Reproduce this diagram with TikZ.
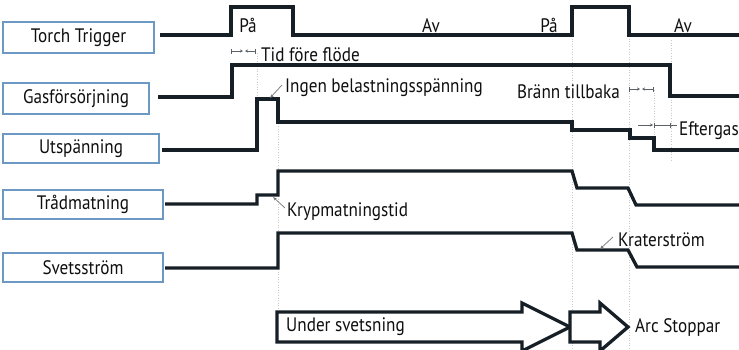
\documentclass[tikz,border=0pt]{standalone}
\usepackage{fontspec}
\setmainfont[FakeStretch=0.88]{PT Sans}
\usetikzlibrary{arrows.meta}
\definecolor{boxblue}{RGB}{108,152,196}
\definecolor{sig}{RGB}{22,30,38}
\definecolor{txt}{RGB}{15,15,15}
\definecolor{guide}{RGB}{200,200,200}
\tikzset{
  lbl/.style={draw=boxblue, line width=2.8pt, fill=white, inner sep=0pt, font=\fontsize{19.5}{21}\selectfont, text=txt},
  wave/.style={draw=sig, line width=3.3pt, line join=miter},
  note/.style={font=\fontsize{19.5}{21}\selectfont, text=txt, inner sep=0pt},
  guideline/.style={draw=guide, line width=0.6pt, dotted},
  leader/.style={draw=sig!60, line width=0.7pt, -{Stealth[length=4pt,width=3pt]}},
  dim/.style={draw=sig!70, line width=0.7pt},
  bigarrow/.style={draw=sig, line width=3.3pt, fill=white, line join=miter}
}
\begin{document}
\begin{tikzpicture}[x=1pt,y=-1pt]
\useasboundingbox (0,0) rectangle (739,349);
\clip (0,0) rectangle (739,349);
\fill[white] (0,0) rectangle (739,349);

% guide lines
\draw[guideline] (257,53) -- (257,100);
\draw[guideline] (278,100) -- (278,310);
\draw[guideline] (572,36) -- (572,349);
\draw[guideline] (629,36) -- (629,349);
\draw[guideline] (654,90) -- (654,150);
\draw[guideline] (671,40) -- (671,160);

% label boxes
\node[lbl, minimum width=151pt, minimum height=31pt] (tt) at (78.5,37.5) {Torch Trigger};
\node[lbl, minimum width=146pt, minimum height=31pt] (gas) at (76,98.5) {Gasförsörjning};
\node[lbl, minimum width=156pt, minimum height=29pt] (ut) at (81,148.5) {Utspänning};
\node[lbl, minimum width=160pt, minimum height=29pt] (tr) at (83,204.5) {Trådmatning};
\node[lbl, minimum width=160pt, minimum height=29pt] (sv) at (83,267.5) {Svetsström};

% waveforms
\draw[wave] (160,35) -- (231,35) -- (231,7) -- (293,7) -- (293,35) -- (572,35) -- (572,7) -- (629,7) -- (629,35) -- (740,35);
\draw[wave] (158,97) -- (232,97) -- (232,65) -- (670,65) -- (670,96) -- (740,96);
\draw[wave] (162,150) -- (257,150) -- (257,99) -- (278,99) -- (278,122) -- (572,122) -- (572,130) -- (630,130) -- (630,138) -- (654,138) -- (654,150) -- (740,150);
\draw[wave] (165,204) -- (257,204) -- (257,195) -- (278,195) -- (278,171) -- (572,171) -- (577,188) -- (628,188) -- (636,205) -- (740,205);
\draw[wave] (165,268) -- (278,268) -- (278,233) -- (572,233) -- (577,250) -- (628,250) -- (637,267) -- (740,267);

% state labels
\node[note, anchor=base] (pa1) at (248,32) {På};
\node[note, anchor=base] (av1) at (431,32) {Av};
\node[note, anchor=base] (pa2) at (549,32) {På};
\node[note, anchor=base] (av2) at (683,32) {Av};

% annotations
\node[note, anchor=west] (tid) at (261,55) {Tid före flöde};
\draw[dim, {Bar[width=5pt]}-{Stealth[length=3pt,width=3pt]}] (231,51) -- (243,51);
\draw[dim, {Stealth[length=3pt,width=3pt]}-{Bar[width=5pt]}] (245,51) -- (256,51);

\node[note, anchor=west] (ingen) at (285,88) {Ingen belastningsspänning};
\coordinate (ingentip) at (270,98);
\draw[leader] (282,85) -- (ingentip);

\node[note, anchor=east] (bt) at (620,92) {Bränn tillbaka};
\draw[dim, {Bar[width=5pt]}-{Stealth[length=3pt,width=3pt]}] (629,89) -- (640,89);
\draw[dim, {Stealth[length=3pt,width=3pt]}-{Bar[width=5pt]}] (642,89) -- (654,89);

\node[note, anchor=west] (eg) at (679,131) {Eftergas};
\draw[dim, -{Stealth[length=3pt,width=3pt]}] (638,125) -- (653,125);
\draw[dim, {Bar[width=5pt]}-{Bar[width=5pt]}] (654,125) -- (671,125);
\draw[dim] (671,125) -- (677,125);

\node[note, anchor=west] (kryp) at (287,212) {Krypmatningstid};
\coordinate (kryptip) at (273,197);
\draw[leader] (285,208) -- (kryptip);

\node[note, anchor=west] (krater) at (618,240) {Kraterström};
\coordinate (kratertip) at (600,249);
\draw[leader] (613,237) -- (kratertip);

% big arrows
\draw[bigarrow] (277,312) -- (522,312) -- (522,303) -- (570,327) -- (522,351) -- (522,342) -- (277,342) -- cycle;
\draw[bigarrow] (570,312) -- (600,312) -- (600,303) -- (628,327) -- (600,351) -- (600,342) -- (570,342) -- cycle;
\node[note, anchor=west] (under) at (286,327) {Under svetsning};
\node[note, anchor=west] (arc) at (635,328) {Arc Stoppar};
\end{tikzpicture}
\end{document}
